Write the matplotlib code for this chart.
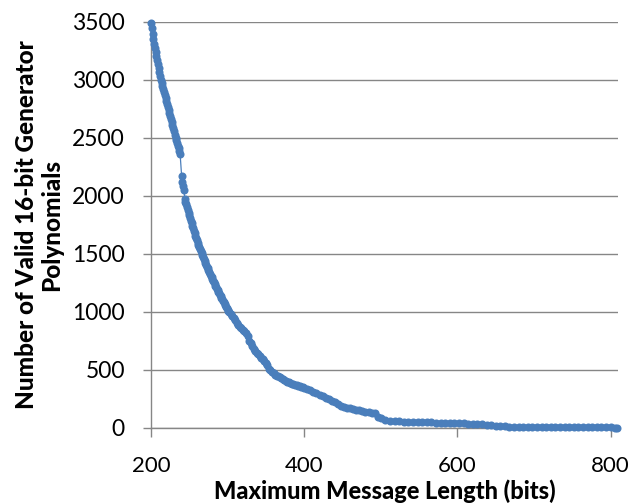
import matplotlib
matplotlib.use("Agg")
import matplotlib.pyplot as plt

# ---- data ----
x_len = [200, 201, 202, 203, 204, 205, 206, 207, 208, 209, 210, 211, 212, 213,
         214, 215, 216, 217, 218, 219, 220, 221, 222, 223, 224, 225, 226, 227,
         228, 229, 230, 231, 232, 233, 234, 235, 236, 237, 238,
         240, 241, 242, 243, 244, 245, 246, 247, 248, 249, 250, 251, 252, 253,
         254, 255, 256, 257, 258, 259, 260, 261, 262, 263, 264, 265, 266, 267,
         268, 269, 270, 271, 272, 273, 274, 275, 276, 277, 278, 279, 280, 281,
         282, 283, 284, 285, 286, 287, 288, 289, 290, 291, 292, 293, 294, 295,
         296, 297, 298, 299, 300, 301,
         302, 304, 306, 308, 310, 312, 314, 316, 318, 320, 322, 324, 326, 328,
         330, 332, 334, 336, 338, 340, 342, 344, 346, 348, 350, 352, 354, 356,
         358, 360, 362, 364, 366, 368, 370, 372, 374, 376, 378, 380, 382, 384,
         386, 388, 390, 392, 394, 396, 398, 400,
         404, 408, 412, 416, 420, 424, 428, 432, 436, 440, 444, 448, 452, 456,
         460, 464, 468, 472, 476, 480, 484, 488, 492, 496, 500,
         506, 512, 518, 524, 530, 536, 542, 548, 554, 560, 566, 572, 578, 584,
         590, 596, 602, 608, 614, 620, 626, 632, 638, 644, 650, 656, 662, 668,
         674, 680, 686, 692, 698, 704, 710, 716, 722, 728, 734, 740, 746, 752,
         758, 764, 770, 776, 782, 788, 794, 800, 806, 808]
n_poly = [3485, 3440, 3396, 3351, 3307, 3273, 3239, 3205, 3171, 3137, 3102, 3068, 3034, 3000,
          2974, 2947, 2921, 2895, 2868, 2842, 2816, 2790, 2763, 2737, 2711, 2684, 2658, 2632,
          2605, 2579, 2553, 2526, 2500, 2477, 2453, 2430, 2407, 2383, 2360,
          2167, 2118, 2080, 2046, 1975, 1950, 1926, 1902, 1878, 1855, 1832, 1809, 1786, 1764,
          1742, 1720, 1699, 1678, 1657, 1637, 1617, 1597, 1578, 1559, 1540, 1521, 1505, 1490,
          1473, 1456, 1439, 1422, 1406, 1390, 1374, 1358, 1342, 1327, 1312, 1297, 1282, 1268,
          1254, 1240, 1226, 1212, 1199, 1186, 1173, 1160, 1147, 1134, 1121, 1108, 1095, 1082,
          1069, 1056, 1043, 1030, 1017, 1004,
          995, 978, 961, 944, 926, 908, 890, 872, 858, 846, 834, 820, 790, 752,
          728, 706, 680, 664, 648, 634, 620, 606, 592, 578, 562, 540, 512, 498,
          484, 470, 460, 452, 446, 440, 430, 420, 412, 404, 398, 392, 388, 382,
          376, 373, 370, 365, 360, 355, 350, 345,
          336, 327, 314, 300, 286, 273, 260, 248, 234, 220, 206, 193, 181, 174,
          168, 162, 157, 154, 148, 142, 135, 132, 128, 95, 85,
          72, 64, 59, 56, 54, 53, 52, 51, 50, 49, 48, 47, 46, 45,
          44, 43, 41, 40, 38, 37, 35, 32, 28, 22, 18, 15, 13, 12,
          11, 11, 10, 10, 10, 10, 10, 10, 9, 9, 9, 9, 8, 8,
          8, 7, 7, 6, 6, 5, 5, 5, 4, 4]
x_ticks = [200, 400, 600, 800]
y_ticks = [0, 500, 1000, 1500, 2000, 2500, 3000, 3500]
x_title = "Maximum Message Length (bits)"
y_title = "Number of Valid 16-bit Generator\nPolynomials"

FONT = "Lato"
GRAY = "#868686"
BLUE = "#4A7EBB"

W, H = 641, 504
fig = plt.figure(figsize=(W / 100, H / 100), dpi=100)
left, right, top, bottom = 151, 617.5, 21.5, 428
ax = fig.add_axes([left / W, 1 - bottom / H, (right - left) / W, (bottom - top) / H])

ax.plot(x_len, n_poly, color=BLUE, lw=0.9, marker="o", markersize=5.8,
        markeredgewidth=0, clip_on=False, zorder=3)

ax.set_xlim(200, 809)
ax.set_ylim(0, 3500)
ax.set_xticks(x_ticks)
ax.set_yticks(y_ticks)
ax.set_xticklabels([str(v) for v in x_ticks], fontfamily=FONT, fontsize=16)
ax.set_yticklabels([str(v) for v in y_ticks], fontfamily=FONT, fontsize=16.5)

ax.grid(axis="y", color=GRAY, lw=1.0)
ax.set_axisbelow(True)
for s in ["top", "right"]:
    ax.spines[s].set_visible(False)
for s in ["left", "bottom"]:
    ax.spines[s].set_color(GRAY)
    ax.spines[s].set_linewidth(1.0)
ax.tick_params(axis="x", direction="out", length=6.5, width=1, color=GRAY, pad=13.5)
ax.tick_params(axis="y", direction="out", length=5.8, width=1, color=GRAY, pad=13)

fig.text(384.5 / W, 1 - 498.5 / H, x_title, ha="center", va="baseline",
         fontfamily=FONT, fontweight="black", fontsize=17)
fig.text(39 / W, 1 - 225 / H, y_title, ha="center", va="center", rotation=90,
         multialignment="center", fontfamily=FONT, fontweight="black", fontsize=17.5,
         linespacing=1.1)

fig.savefig("out.png", dpi=100)
